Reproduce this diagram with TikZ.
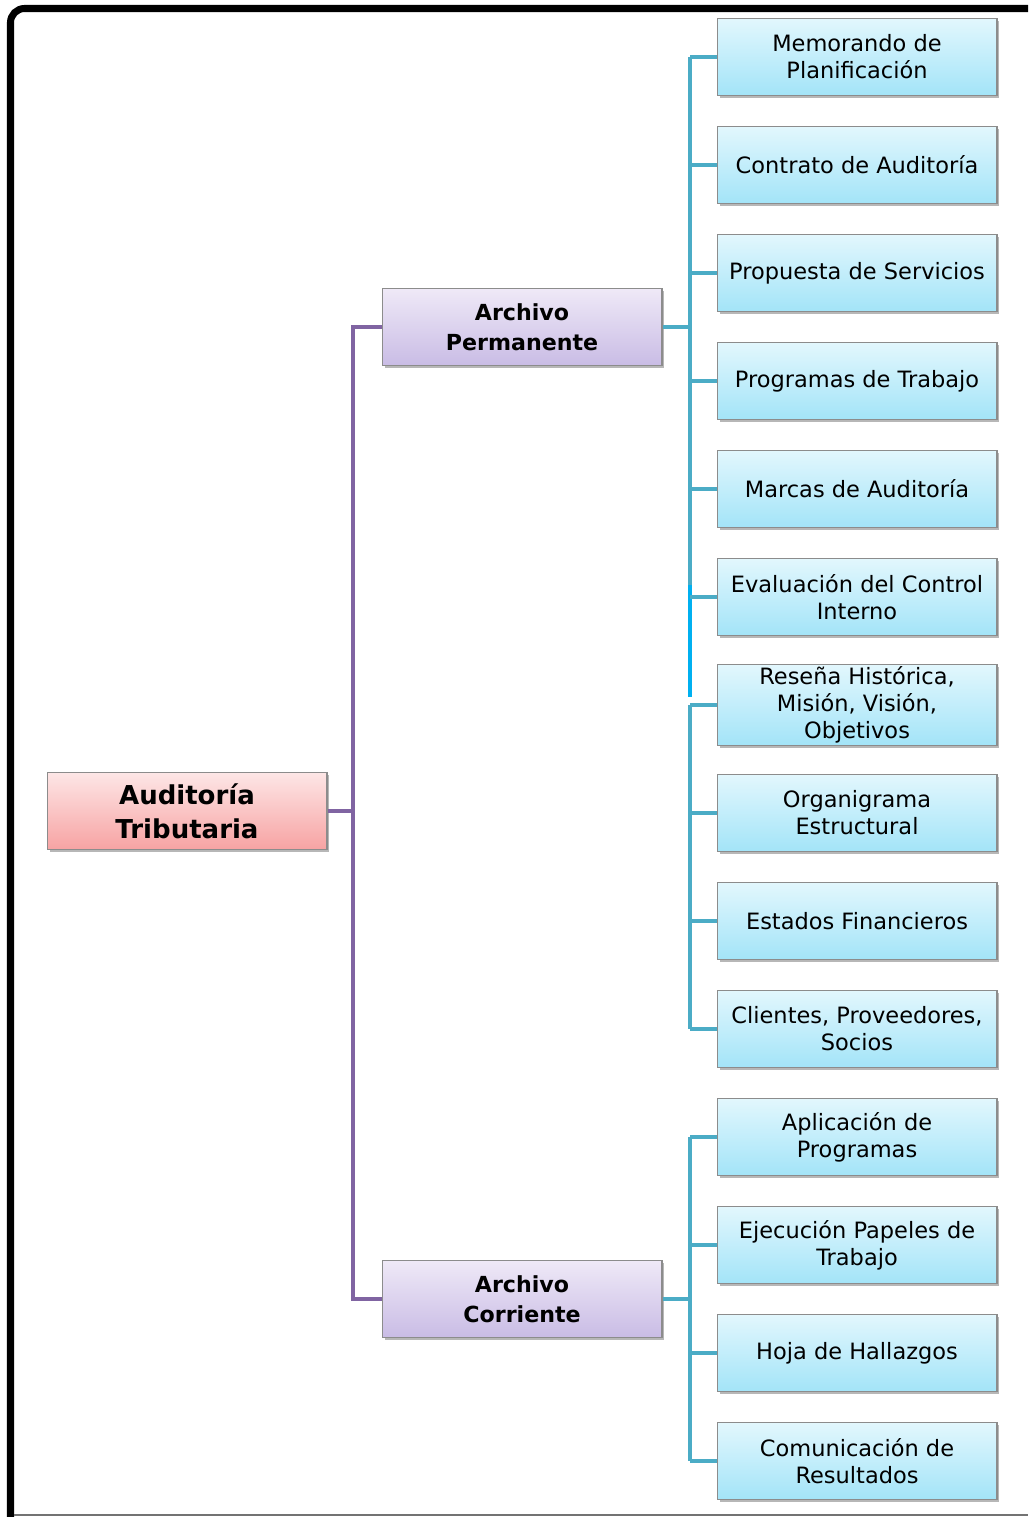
\documentclass[tikz,border=0pt]{standalone}
\usepackage{fontspec}
\setmainfont{DejaVu Sans}
\usetikzlibrary{positioning,shadows}

\definecolor{leafline}{HTML}{4BACC6}
\definecolor{leafcyan}{HTML}{00B0F0}
\definecolor{rootline}{HTML}{8064A2}
\definecolor{leaftop}{HTML}{E2F7FD}
\definecolor{leafbot}{HTML}{A3E4F8}
\definecolor{filetop}{HTML}{EFE9F7}
\definecolor{filebot}{HTML}{C9BCE5}
\definecolor{roottop}{HTML}{FDE6E6}
\definecolor{rootbot}{HTML}{F7A3A3}

\tikzset{
	basebox/.style={draw=black!45, line width=.6pt, minimum width=5.6cm, minimum height=1.54cm,
		align=center, inner sep=1pt,
		drop shadow={shadow xshift=.05cm, shadow yshift=-.05cm, opacity=.4, fill=black!70}},
	leafbox/.style={basebox, top color=leaftop, bottom color=leafbot,
		font=\fontsize{12.8}{15.4}\selectfont},
	filebox/.style={basebox, top color=filetop, bottom color=filebot,
		font=\bfseries\fontsize{12.6}{17}\selectfont},
	rootbox/.style={basebox, top color=roottop, bottom color=rootbot,
		font=\bfseries\fontsize{14.8}{19.3}\selectfont},
	blueline/.style={draw=leafline, line width=2.3pt},
	purpleline/.style={draw=rootline, line width=2.3pt}
}

\begin{document}
\begin{tikzpicture}[x=0.02cm, y=-0.02cm]
	\useasboundingbox (0,0) rectangle (1028,1517);

	% frame
	\draw[line width=4pt, rounded corners=8] (10.5,1517) -- (10.5,8.5) -- (1028,8.5);
	\draw[black!55, line width=.8pt] (14,1515) -- (1028,1515);

	% main boxes
	\node[rootbox] (root) at (187,811) {Auditoría\\Tributaria};
	\node[filebox] (ap) at (522,327) {Archivo\\Permanente};
	\node[filebox] (ac) at (522,1299) {Archivo\\Corriente};

	% documents
	\foreach \i/\txt in {
		1/{Memorando de\\Planificación},
		2/{Contrato de Auditoría},
		3/{Propuesta de Servicios},
		4/{Programas de Trabajo},
		5/{Marcas de Auditoría},
		6/{Evaluación del Control\\Interno},
		7/{Reseña Histórica,\\Misión, Visión,\\Objetivos},
		8/{Organigrama\\Estructural},
		9/{Estados Financieros},
		10/{Clientes, Proveedores,\\Socios},
		11/{Aplicación de\\Programas},
		12/{Ejecución Papeles de\\Trabajo},
		13/{Hoja de Hallazgos},
		14/{Comunicación de\\Resultados}}{
		\node[leafbox] (d\i) at (857,{57+108*(\i-1)}) {\txt};
	}

	% connectors
	\coordinate (px) at (353,0);
	\coordinate (bx) at (690,0);
	\coordinate (cyanA) at (690,585);
	\coordinate (cyanB) at (690,697);

	\draw[purpleline] (root.east) -- (root.east -| px);
	\draw[purpleline] (ap.west) -- (ap.west -| px) -- (ac.west -| px) -- (ac.west);

	\draw[blueline] (ap.east) -- (ap.east -| bx);
	\draw[blueline] (d1.west -| bx) -- (cyanA);
	\draw[draw=leafcyan, line width=2.3pt] (cyanA) -- (cyanB);
	\draw[blueline] (d7.west -| bx) -- (d10.west -| bx);
	\draw[blueline] (ac.east) -- (ac.east -| bx);
	\draw[blueline] (d11.west -| bx) -- (d14.west -| bx);
	\foreach \i in {1,...,14}{
		\draw[blueline] (d\i.west -| bx) -- (d\i.west);
	}
\end{tikzpicture}
\end{document}
